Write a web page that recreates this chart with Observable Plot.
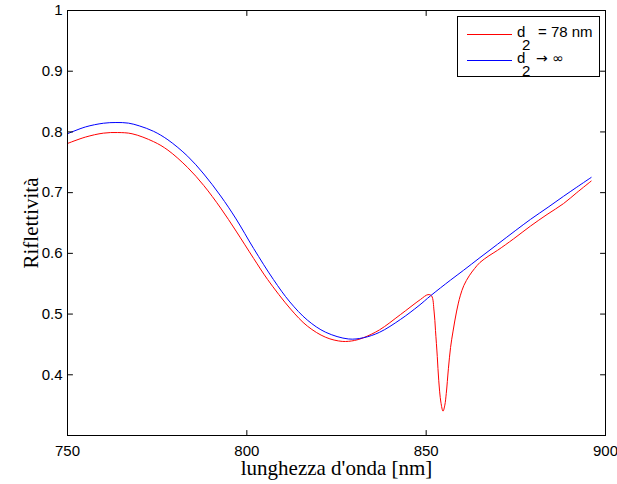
<!DOCTYPE html>
<html>
<head>
<meta charset="utf-8">
<script src="https://cdn.jsdelivr.net/npm/d3@7"></script>
<script src="https://cdn.jsdelivr.net/npm/@observablehq/plot@0.6"></script>
<style>
  html, body { margin: 0; padding: 0; background: white; }
  #wrap { position: relative; width: 617px; height: 484px; }
  #legend { position: absolute; left: 0; top: 0; pointer-events: none; }
</style>
</head>
<body>
<div id="wrap"></div>
<script>
// Series: d2 -> infinity (blue)
const wlBlue = [750, 755, 760, 763.5, 767, 770, 774, 778, 783.5, 788, 792.7, 797, 801.9, 807.4, 812, 816.9, 822, 828.3, 832.5, 837, 842.8, 848, 851.2, 856.8, 860.4, 865, 869.9, 875, 879.1, 884, 888.3, 892, 896];
const rBlue  = [0.797, 0.8082, 0.8143, 0.8155, 0.8145, 0.810, 0.801, 0.787, 0.760, 0.7307, 0.6945, 0.6567, 0.608, 0.557, 0.520, 0.490, 0.470, 0.459, 0.461, 0.470, 0.491, 0.514, 0.530, 0.556, 0.572, 0.593, 0.615, 0.638, 0.656, 0.676, 0.694, 0.709, 0.725];

// Series: d2 = 78 nm (red)
const wlRed = [750, 755, 760, 764, 768, 774, 778, 783.5, 788, 792.7, 797, 801.9, 805.8, 812.2, 816.9, 822, 826.6, 830, 832.5, 837, 842.8, 848.4, 850.5, 851.5, 852.2, 852.6, 853.1, 853.5, 854.1, 854.7, 855.2, 855.6, 856.2, 856.8, 857.5, 858.5, 859.5, 860.5, 862, 863.5, 865, 867.5, 869.9, 874.4, 879.1, 883.7, 888.3, 892, 896];
const rRed  = [0.781, 0.7915, 0.798, 0.799, 0.797, 0.784, 0.770, 0.7414, 0.7117, 0.6746, 0.6367, 0.5916, 0.5569, 0.5083, 0.4801, 0.4617, 0.455, 0.4565, 0.461, 0.474, 0.499, 0.524, 0.532, 0.530, 0.505, 0.473, 0.430, 0.391, 0.355, 0.340, 0.350, 0.369, 0.410, 0.445, 0.472, 0.505, 0.530, 0.547, 0.563, 0.575, 0.585, 0.596, 0.605, 0.624, 0.645, 0.664, 0.682, 0.700, 0.719];

// Ticks and labels
const xTicks = [750, 800, 850, 900];
const yTicks = [0.4, 0.5, 0.6, 0.7, 0.8, 0.9, 1];
const xLabel = "lunghezza d'onda [nm]";
const yLabel = "Riflettività";

const blue = wlBlue.map((w, i) => ({w, r: rBlue[i]}));
const red = wlRed.map((w, i) => ({w, r: rRed[i]}));

const tickShape = { draw(context, l) { context.moveTo(0, 0); context.lineTo(0, -l); } };
const tickOpts = {length: 5, anchor: "start", shape: tickShape, stroke: "black", strokeWidth: 1};
const serif = "'Liberation Serif', 'Times New Roman', serif";

const chart = Plot.plot({
  width: 617,
  height: 484,
  marginLeft: 67,
  marginRight: 12,
  marginTop: 10,
  marginBottom: 49,
  x: {domain: [750, 900]},
  y: {domain: [0.3, 1]},
  style: {fontFamily: "'Liberation Sans', Arial, sans-serif", fontSize: "15px", background: "white", color: "black", overflow: "visible"},
  marks: [
    Plot.line(red, {x: "w", y: "r", stroke: "#ff0000", strokeWidth: 1, curve: "catmull-rom"}),
    Plot.line(blue, {x: "w", y: "r", stroke: "#0000ff", strokeWidth: 1, curve: "catmull-rom"}),
    Plot.frame({stroke: "black", strokeWidth: 1}),
    Plot.vector(xTicks, {x: d => d, frameAnchor: "bottom", rotate: 0, ...tickOpts}),
    Plot.vector(xTicks, {x: d => d, frameAnchor: "top", rotate: 180, ...tickOpts}),
    Plot.vector(yTicks, {y: d => d, frameAnchor: "left", rotate: 90, ...tickOpts}),
    Plot.vector(yTicks, {y: d => d, frameAnchor: "right", rotate: -90, ...tickOpts}),
    Plot.axisX(xTicks, {anchor: "bottom", tickSize: 0, tickPadding: 10, fontSize: 15, fill: "black", label: null, tickFormat: d => String(d)}),
    Plot.axisY(yTicks, {anchor: "left", tickSize: 0, tickPadding: 5, fontSize: 15, fill: "black", label: null, tickFormat: d => d === 1 ? "1" : d.toFixed(1)}),
    Plot.text([xLabel], {text: d => d, frameAnchor: "bottom", textAnchor: "middle", lineAnchor: "middle", dy: 32.5, fontFamily: serif, fontSize: 21, fill: "black"}),
    Plot.text([yLabel], {text: d => d, frameAnchor: "left", textAnchor: "middle", lineAnchor: "middle", dx: -36, rotate: -90, fontFamily: serif, fontSize: 21, fill: "black"})
  ]
});

const wrap = document.getElementById("wrap");
wrap.appendChild(chart);

// Legend (layout element)
const ns = "http://www.w3.org/2000/svg";
const leg = document.createElementNS(ns, "svg");
leg.setAttribute("id", "legend");
leg.setAttribute("width", 617);
leg.setAttribute("height", 484);
leg.innerHTML = `
  <rect x="457.5" y="16.5" width="142" height="60" fill="white" stroke="black" stroke-width="1"/>
  <line x1="467" x2="512" y1="34.5" y2="34.5" stroke="#ff0000" stroke-width="1"/>
  <line x1="467" x2="512" y1="60.5" y2="60.5" stroke="#0000ff" stroke-width="1"/>
  <g font-family="'Liberation Sans', Arial, sans-serif" font-size="15" fill="black">
    <text x="517" y="37">d</text><text x="522" y="50">2</text><text x="538" y="37">= 78 nm</text>
    <text x="517" y="63">d</text><text x="522" y="76">2</text>
    <text x="536" y="63" font-family="'DejaVu Sans', sans-serif" font-size="14">→ ∞</text>
  </g>`;
wrap.appendChild(leg);
</script>
</body>
</html>
